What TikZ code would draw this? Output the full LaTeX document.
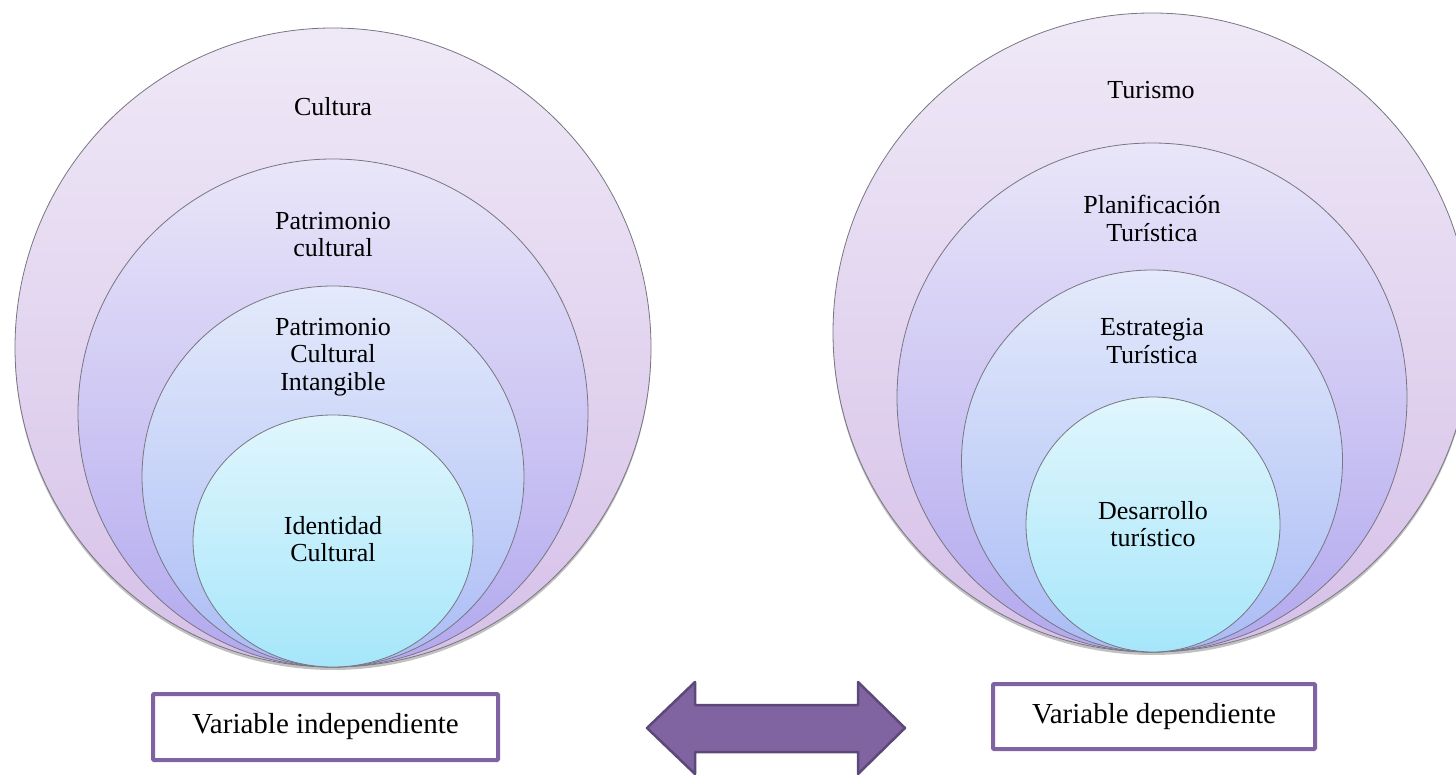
\documentclass[tikz,border=0pt]{standalone}
\usepackage{fontspec}
\setmainfont{Liberation Serif}
\usetikzlibrary{shapes.geometric,shadows}
\definecolor{vpurple}{HTML}{8064A2}
\definecolor{vpurpledark}{HTML}{5C4879}
\definecolor{ringline}{RGB}{120,118,128}
\definecolor{aTop}{RGB}{239,233,247}
\definecolor{aBot}{RGB}{214,192,232}
\definecolor{bTop}{RGB}{233,230,249}
\definecolor{bBot}{RGB}{178,168,238}
\definecolor{cTop}{RGB}{228,234,251}
\definecolor{cBot}{RGB}{170,188,245}
\definecolor{dTop}{RGB}{224,246,252}
\definecolor{dBot}{RGB}{166,230,250}
\tikzset{
  ring/.style={ellipse, draw=ringline, line width=0.8pt, inner sep=0pt, outer sep=0pt},
  ringA/.style={ring, top color=aTop, bottom color=aBot,
    drop shadow={shadow xshift=0pt, shadow yshift=-3pt, opacity=0.35, fill=black!70}},
  ringB/.style={ring, top color=bTop, bottom color=bBot},
  ringC/.style={ring, top color=cTop, bottom color=cBot},
  ringD/.style={ring, top color=dTop, bottom color=dBot},
  lbl/.style={align=center, inner sep=0pt, font=\fontsize{26}{27.5}\selectfont},
  varbox/.style={rectangle, draw=vpurple, line width=4pt, fill=white, rounded corners=1pt,
    inner sep=0pt, font=\fontsize{29}{32}\selectfont},
  bigarrow/.style={fill=vpurple, draw=vpurpledark, line width=2.5pt, line join=round}
}
\begin{document}
\begin{tikzpicture}[x=1pt,y=-1pt]
\useasboundingbox (0,0) rectangle (1456,775);
% left group
\node[ringA, minimum width=636pt, minimum height=639pt] (L1) at (333,347.5) {};
\node[ringB, minimum width=510pt, minimum height=508pt] (L2) at (333,413) {};
\node[ringC, minimum width=382pt, minimum height=381pt] (L3) at (333,476.5) {};
\node[ringD, minimum width=280pt, minimum height=252pt] (L4) at (333,541) {};
\node[lbl] (tL1) at (333,107) {Cultura};
\node[lbl] (tL2) at (333,234.5) {Patrimonio\\cultural};
\node[lbl] (tL3) at (333,357) {Patrimonio\\Cultural\\Intangible};
\node[lbl] (tL4) at (333,539) {Identidad\\Cultural};
% right group
\node[ringA, minimum width=638pt, minimum height=639pt] (R1) at (1152,332.5) {};
\node[ringB, minimum width=510pt, minimum height=509pt] (R2) at (1152,397.5) {};
\node[ringC, minimum width=381pt, minimum height=382pt] (R3) at (1152,461) {};
\node[ringD, minimum width=254pt, minimum height=255pt] (R4) at (1153,524.5) {};
\node[lbl] (tR1) at (1151,90) {Turismo};
\node[lbl] (tR2) at (1152,218.5) {Planificación\\Turística};
\node[lbl] (tR3) at (1152,341) {Estrategia\\Turística};
\node[lbl] (tR4) at (1153,524) {Desarrollo\\turístico};
% boxes
\node[varbox, minimum width=345pt, minimum height=66pt] (VI) at (325.5,727) {Variable independiente};
\node[varbox, minimum width=322pt, minimum height=65pt] (VD) at (1154,716.5) {Variable dependiente};
% double arrow
\draw[bigarrow] (647,728) -- (695,682) -- (695,705) -- (858,705) -- (858,682) -- (905,728)
  -- (858,774) -- (858,752) -- (695,752) -- (695,774) -- cycle;
\end{tikzpicture}
\end{document}
